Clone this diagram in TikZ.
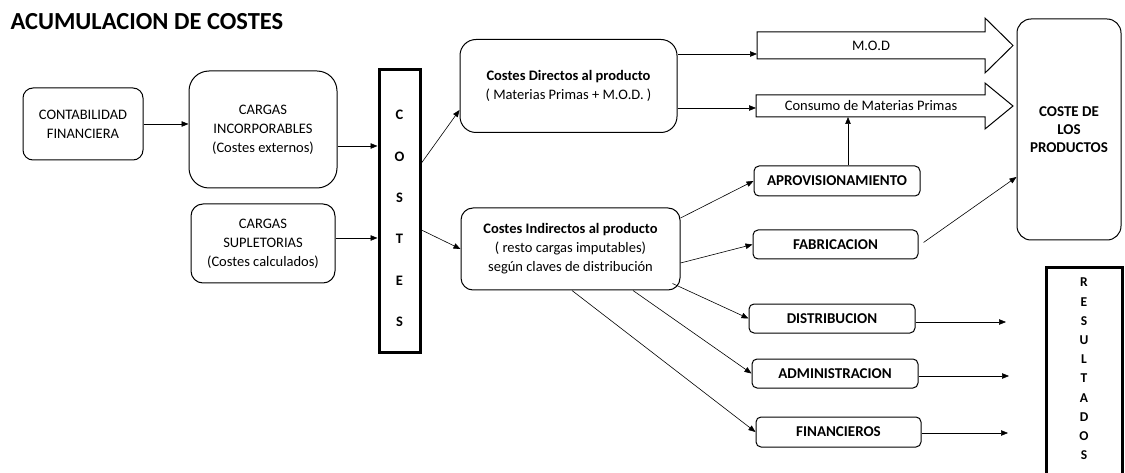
\documentclass[tikz,border=0pt]{standalone}
\usepackage{fontspec}
\setmainfont{Carlito}
\usetikzlibrary{arrows.meta,calc}
\begin{document}
\begin{tikzpicture}[x=1pt,y=-1pt,
  arr/.style={line width=0.6pt,-{Triangle[length=7pt,width=5.5pt]}},
  rbox/.style={draw,line width=1pt,rounded corners=#1,align=center,inner sep=0pt},
  rbox/.default=6pt,
  txt/.style={font=\fontsize{14.5}{19}\selectfont},
  btxt/.style={font=\bfseries\fontsize{15}{18}\selectfont},
  bar/.style={draw,line width=3pt,inner sep=0pt},
  blk/.style={draw,line width=1pt,line join=miter}]
\useasboundingbox (0,0) rectangle (1125,473);

\node[anchor=base west,font=\bfseries\fontsize{24.5}{28}\selectfont] (title) at (7,30) {ACUMULACION DE COSTES};

\node[rbox=10pt,txt,minimum width=120pt,minimum height=72pt] (cf) at (83,124) {CONTABILIDAD\\FINANCIERA};
\node[rbox=20pt,txt,minimum width=148pt,minimum height=117pt] (cinc) at (263,129.5) {CARGAS\\INCORPORABLES\\(Costes externos)};
\node[rbox=12pt,txt,minimum width=144pt,minimum height=79pt] (csup) at (263,243.5) {CARGAS\\SUPLETORIAS\\(Costes calculados)};

\node[bar,minimum width=41pt,minimum height=282pt] (costes) at (399.5,211) {};
\node[font=\bfseries\fontsize{14.5}{41.4}\selectfont,align=center,inner sep=0pt] (costesl) at (399.5,218.5) {C\\O\\S\\T\\E\\S};

\node[rbox=16pt,txt,minimum width=217pt,minimum height=93pt] (cd) at (568.5,86) {\textbf{Costes Directos al producto}\\( Materias Primas + M.O.D. )};
\node[rbox=12pt,txt,minimum width=219pt,minimum height=82pt] (ci) at (570.5,249) {\textbf{Costes Indirectos al producto}\\( resto cargas imputables)\\según claves de distribución};

% block arrows
\draw[blk] (757,32) -- (985,32) -- (985,18) -- (1013,45.5) -- (985,73) -- (985,59) -- (757,59) -- cycle;
\node[txt] (modtxt) at (871,45.5) {M.O.D};
\coordinate (modin) at (757,54);
\draw[blk] (756,95) -- (985,95) -- (985,83) -- (1013,106) -- (985,129) -- (985,117) -- (756,117) -- cycle;
\node[txt] (constxt) at (871,106) {Consumo de Materias Primas};
\coordinate (consin) at (756,108);
\coordinate (consbot) at (848,117);

\node[rbox=5pt,btxt,minimum width=166pt,minimum height=30pt] (aprov) at (837,181) {APROVISIONAMIENTO};
\node[rbox=5pt,btxt,minimum width=165pt,minimum height=29pt] (fab) at (835.5,244.5) {FABRICACION};
\node[rbox=5pt,btxt,minimum width=166pt,minimum height=29pt] (dist) at (832,318.5) {DISTRIBUCION};
\node[rbox=5pt,btxt,minimum width=166pt,minimum height=29pt] (admin) at (835,373.5) {ADMINISTRACION};
\node[rbox=5pt,btxt,minimum width=165pt,minimum height=30pt] (fin) at (838.5,432) {FINANCIEROS};

\node[rbox=14pt,btxt,minimum width=104pt,minimum height=221pt] (cdp) at (1069,129.5) {COSTE DE\\LOS\\PRODUCTOS};

\node[bar,minimum width=76pt,minimum height=222pt] (res) at (1084,379) {};
\node[font=\bfseries\fontsize{13.5}{19.2}\selectfont,align=center,inner sep=0pt] (resl) at (1084,369) {R\\E\\S\\U\\L\\T\\A\\D\\O\\S};

\coordinate (rd) at (1006,322);
\coordinate (ra) at (1009,376);
\coordinate (rf) at (1008,433);

% connectors
\draw[arr] (cf.east) -- (cf.east -| cinc.west);
\draw[arr] ([yshift=-16.5pt]cinc.east) -- ([yshift=-16.5pt]cinc.east -| costes.west);
\draw[arr] ([yshift=5.5pt]csup.east) -- ([yshift=5.5pt]csup.east -| costes.west);
\draw[arr] ([yshift=48pt]costes.east) -- ([yshift=-24pt]cd.west);
\draw[arr] ([yshift=-19pt]costes.east) -- (ci.west);
\draw[arr] (cd.east |- modin) -- (modin);
\draw[arr] (cd.east |- consin) -- (consin);
\draw[arr] (aprov.north -| consbot) -- (consbot);
\draw[arr] ([yshift=31pt]ci.east) -- (aprov.west);
\draw[arr] ([yshift=-14pt]ci.east) -- (fab.west);
\draw[arr] ([shift={(5pt,2pt)}]fab.east) -- ([yshift=-47.5pt]cdp.west);
\draw[arr] ($(ci.south east)+(-8,-7)$) -- (dist.west);
\draw[arr] ([xshift=62.5pt]ci.south) -- (admin.west);
\draw[arr] ([xshift=1.5pt]ci.south) -- (fin.west);
\draw[arr] (dist.east |- rd) -- (rd);
\draw[arr] (admin.east |- ra) -- (ra);
\draw[arr] (fin.east |- rf) -- (rf);
\end{tikzpicture}
\end{document}
